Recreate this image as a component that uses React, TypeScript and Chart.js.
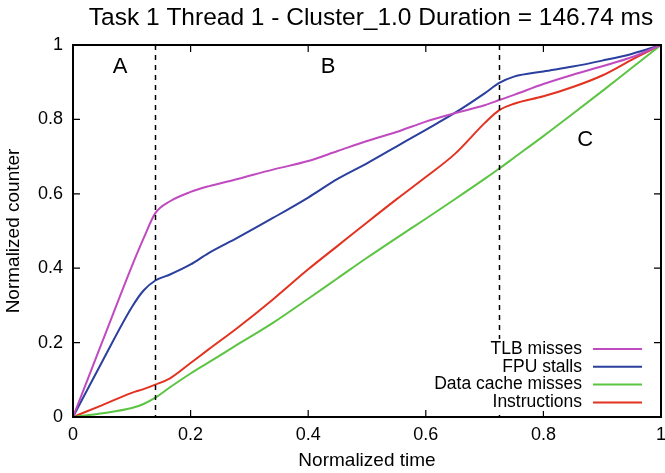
import React, { useEffect, useRef } from "react";
import { Chart, registerables } from "chart.js";

Chart.register(...registerables);

const TITLE = "Task 1 Thread 1 - Cluster_1.0 Duration = 146.74 ms";
const X_LABEL = "Normalized time";
const Y_LABEL = "Normalized counter";

const time = [0, 0.05, 0.1, 0.12, 0.14, 0.165, 0.2, 0.23, 0.28, 0.34, 0.4, 0.45, 0.5, 0.55, 0.6, 0.65, 0.7, 0.725, 0.75, 0.8, 0.85, 0.9, 0.95, 1];
const tlbMisses = [0, 0.203, 0.405, 0.48, 0.548, 0.58, 0.605, 0.62, 0.64, 0.665, 0.688, 0.715, 0.742, 0.766, 0.794, 0.817, 0.838, 0.852, 0.866, 0.895, 0.92, 0.943, 0.967, 1];
const fpuStalls = [0, 0.15, 0.295, 0.34, 0.367, 0.383, 0.41, 0.44, 0.482, 0.535, 0.59, 0.64, 0.682, 0.727, 0.772, 0.818, 0.87, 0.898, 0.915, 0.929, 0.942, 0.958, 0.976, 1];
const dataCacheMisses = [0, 0.01, 0.024, 0.035, 0.052, 0.08, 0.117, 0.146, 0.195, 0.253, 0.318, 0.373, 0.428, 0.481, 0.533, 0.586, 0.64, 0.668, 0.697, 0.755, 0.815, 0.876, 0.938, 1];
const instructions = [0, 0.032, 0.065, 0.075, 0.087, 0.104, 0.145, 0.181, 0.24, 0.316, 0.397, 0.46, 0.523, 0.585, 0.645, 0.708, 0.79, 0.825, 0.842, 0.862, 0.887, 0.918, 0.96, 1];

const seriesNames = ["TLB misses", "FPU stalls", "Data cache misses", "Instructions"];
const seriesValues = [tlbMisses, fpuStalls, dataCacheMisses, instructions];
const seriesColors = ["#c04ac0", "#2a3f9e", "#5cc443", "#e3321f"];

const phaseBoundaries = [0.14, 0.725];
const phaseNames = ["A", "B", "C"];
const phaseNameX = [0.08, 0.434, 0.871];
const phaseNameY = [0.94, 0.94, 0.745];

const tickValues = [0, 0.2, 0.4, 0.6, 0.8, 1];

const FONT = '"Liberation Sans", Arial, Helvetica, sans-serif';

function fmt(v: number) {
  return String(Number(v.toFixed(2)));
}

const decorPlugin = {
  id: "decor",
  afterDatasetsDraw(chart: any) {
    const { ctx, chartArea: a, scales } = chart;
    const xs = scales.x;
    const ys = scales.y;
    ctx.save();
    // dashed phase boundaries
    ctx.strokeStyle = "#000";
    ctx.lineWidth = 1.5;
    ctx.setLineDash([5, 5]);
    for (const b of phaseBoundaries) {
      const px = Math.round(xs.getPixelForValue(b)) + 0.5;
      ctx.beginPath();
      ctx.moveTo(px, a.top);
      ctx.lineTo(px, a.bottom);
      ctx.stroke();
    }
    ctx.setLineDash([]);
    // border box
    ctx.lineWidth = 2;
    ctx.strokeRect(a.left, a.top, a.right - a.left, a.bottom - a.top);
    // inward ticks, mirrored
    ctx.lineWidth = 1.2;
    const tl = 7;
    for (const t of tickValues) {
      const px = xs.getPixelForValue(t);
      const py = ys.getPixelForValue(t);
      ctx.beginPath();
      ctx.moveTo(px, a.bottom);
      ctx.lineTo(px, a.bottom - tl);
      ctx.moveTo(px, a.top);
      ctx.lineTo(px, a.top + tl);
      ctx.moveTo(a.left, py);
      ctx.lineTo(a.left + tl, py);
      ctx.moveTo(a.right, py);
      ctx.lineTo(a.right - tl, py);
      ctx.stroke();
    }
    // phase labels
    ctx.fillStyle = "#000";
    ctx.font = `22px ${FONT}`;
    ctx.textAlign = "center";
    ctx.textBaseline = "middle";
    phaseNames.forEach((n, i) => {
      ctx.fillText(n, xs.getPixelForValue(phaseNameX[i]), ys.getPixelForValue(phaseNameY[i]));
    });
    // legend (opaque key box)
    const rowH = 17.8;
    const baseY = 349;
    const textRight = 582;
    ctx.fillStyle = "#fff";
    ctx.fillRect(428, 339, 222, 72);
    ctx.font = `17.5px ${FONT}`;
    ctx.textAlign = "right";
    chart.data.datasets.forEach((ds: any, i: number) => {
      const y = baseY + i * rowH;
      ctx.fillStyle = "#000";
      ctx.fillText(ds.label, textRight, y);
      ctx.strokeStyle = ds.borderColor;
      ctx.lineWidth = 2;
      ctx.beginPath();
      ctx.moveTo(593, y);
      ctx.lineTo(642, y);
      ctx.stroke();
    });
    // title
    ctx.fillStyle = "#000";
    ctx.font = `24.5px ${FONT}`;
    ctx.textAlign = "center";
    ctx.fillText(TITLE, 371, 18);
    ctx.restore();
  },
};

export default function App() {
  const ref = useRef<HTMLCanvasElement | null>(null);
  useEffect(() => {
    if (!ref.current) return;
    const chart = new Chart(ref.current, {
      type: "line",
      data: {
        datasets: seriesNames.map((name, i) => ({
          label: name,
          data: time.map((t, j) => ({ x: t, y: seriesValues[i][j] })),
          borderColor: seriesColors[i],
          backgroundColor: seriesColors[i],
          borderWidth: 2,
          pointRadius: 0,
          fill: false,
          cubicInterpolationMode: "monotone" as const,
        })),
      },
      options: {
        responsive: false,
        animation: false,
        layout: { padding: { top: 45, right: 4, left: 0, bottom: 0 } },
        plugins: {
          legend: { display: false },
          title: { display: false },
          tooltip: { enabled: false },
        },
        scales: {
          x: {
            type: "linear",
            min: 0,
            max: 1,
            afterBuildTicks: (s: any) => {
              s.ticks = tickValues.map((v) => ({ value: v }));
            },
            afterFit: (s: any) => {
              s.height = 56;
              s.paddingLeft = 0;
              s.paddingRight = 0;
            },
            grid: { display: false, drawTicks: false },
            border: { display: false },
            ticks: {
              color: "#000",
              padding: 7,
              font: { family: FONT, size: 18 },
              callback: (v: any) => fmt(Number(v)),
              maxRotation: 0,
            },
            title: {
              display: true,
              text: X_LABEL,
              color: "#000",
              font: { family: FONT, size: 19 },
              padding: { top: 0, bottom: 1 },
            },
          },
          y: {
            type: "linear",
            min: 0,
            max: 1,
            afterBuildTicks: (s: any) => {
              s.ticks = tickValues.map((v) => ({ value: v }));
            },
            afterFit: (s: any) => {
              s.width = 73;
              s.paddingTop = 0;
              s.paddingBottom = 0;
            },
            grid: { display: false, drawTicks: false },
            border: { display: false },
            ticks: {
              color: "#000",
              padding: 10,
              font: { family: FONT, size: 18 },
              callback: (v: any) => fmt(Number(v)),
            },
            title: {
              display: true,
              text: Y_LABEL,
              color: "#000",
              font: { family: FONT, size: 19 },
              padding: { top: 2, bottom: 0 },
            },
          },
        },
      },
      plugins: [decorPlugin],
    });
    return () => chart.destroy();
  }, []);
  return (
    <div style={{ position: "absolute", left: 0, top: 0, width: 665, height: 473, background: "#fff" }}>
      <canvas ref={ref} width={665} height={473} style={{ display: "block" }} />
    </div>
  );
}
